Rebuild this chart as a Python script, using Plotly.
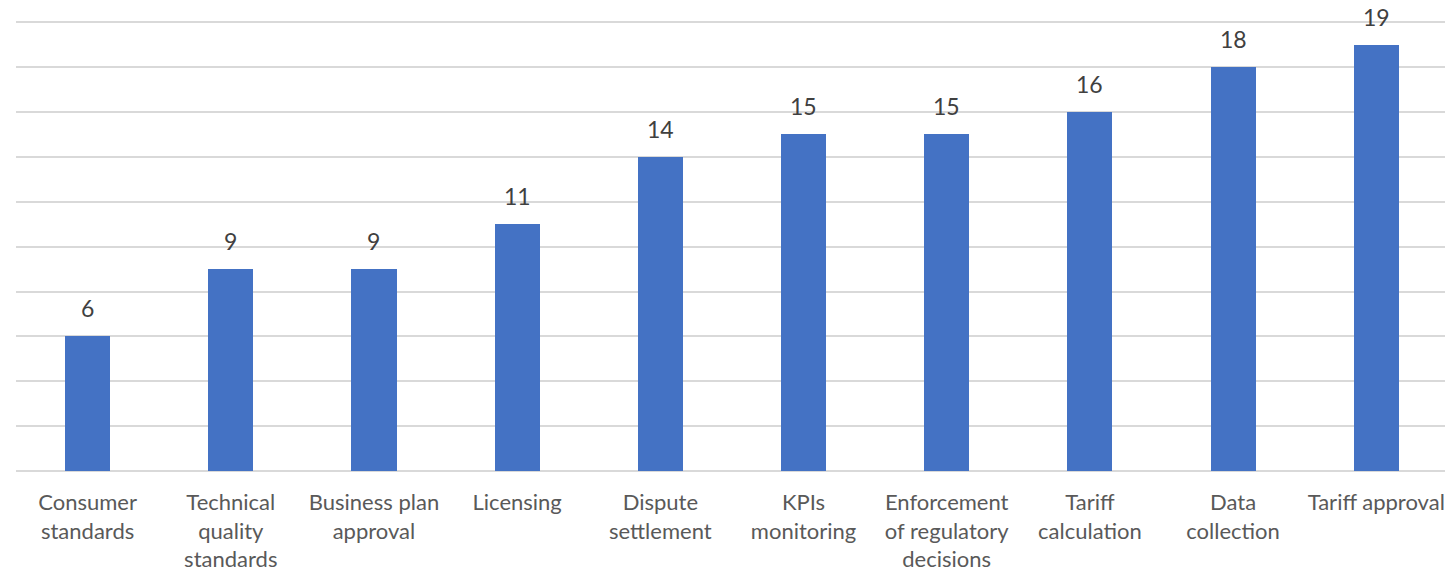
import plotly.graph_objects as go

categories = ["Consumer<br>standards", "Technical<br>quality<br>standards", "Business plan<br>approval",
              "Licensing", "Dispute<br>settlement", "KPIs<br>monitoring",
              "Enforcement<br>of regulatory<br>decisions", "Tariff<br>calculation",
              "Data<br>collection", "Tariff approval"]
values = [6, 9, 9, 11, 14, 15, 15, 16, 18, 19]

xs = list(range(len(categories)))
FONT = "Lato, Open Sans, sans-serif"

fig = go.Figure(go.Bar(
    x=xs, y=values,
    marker=dict(color="#4472C4", line=dict(width=0)),
    width=0.315,
))

for x, v in zip(xs, values):
    fig.add_annotation(x=x, y=v, text=str(v), showarrow=False,
                       yanchor="bottom", yshift=12,
                       font=dict(family=FONT, size=23, color="#404040"))

fig.update_layout(
    width=1445, height=569,
    margin=dict(l=16, r=0, t=20, b=98, autoexpand=False),
    paper_bgcolor="white", plot_bgcolor="white",
    showlegend=False,
    bargap=0,
    xaxis=dict(
        range=[-0.5, 9.48], automargin=False,
        tickmode="array", tickvals=xs, ticktext=categories,
        showgrid=False, zeroline=False, showline=False, ticks="",
        tickfont=dict(family=FONT, size=22, color="#595959"),
        tickangle=0, ticklabelstandoff=16,
    ),
    yaxis=dict(
        range=[0, 20.1], automargin=False,
        tickmode="array", tickvals=list(range(0, 21, 2)),
        showticklabels=False,
        showgrid=True, gridcolor="#D9D9D9", gridwidth=2,
        zeroline=True, zerolinecolor="#D9D9D9", zerolinewidth=2,
        showline=False, ticks="",
    ),
)

fig.write_html("out.html")
